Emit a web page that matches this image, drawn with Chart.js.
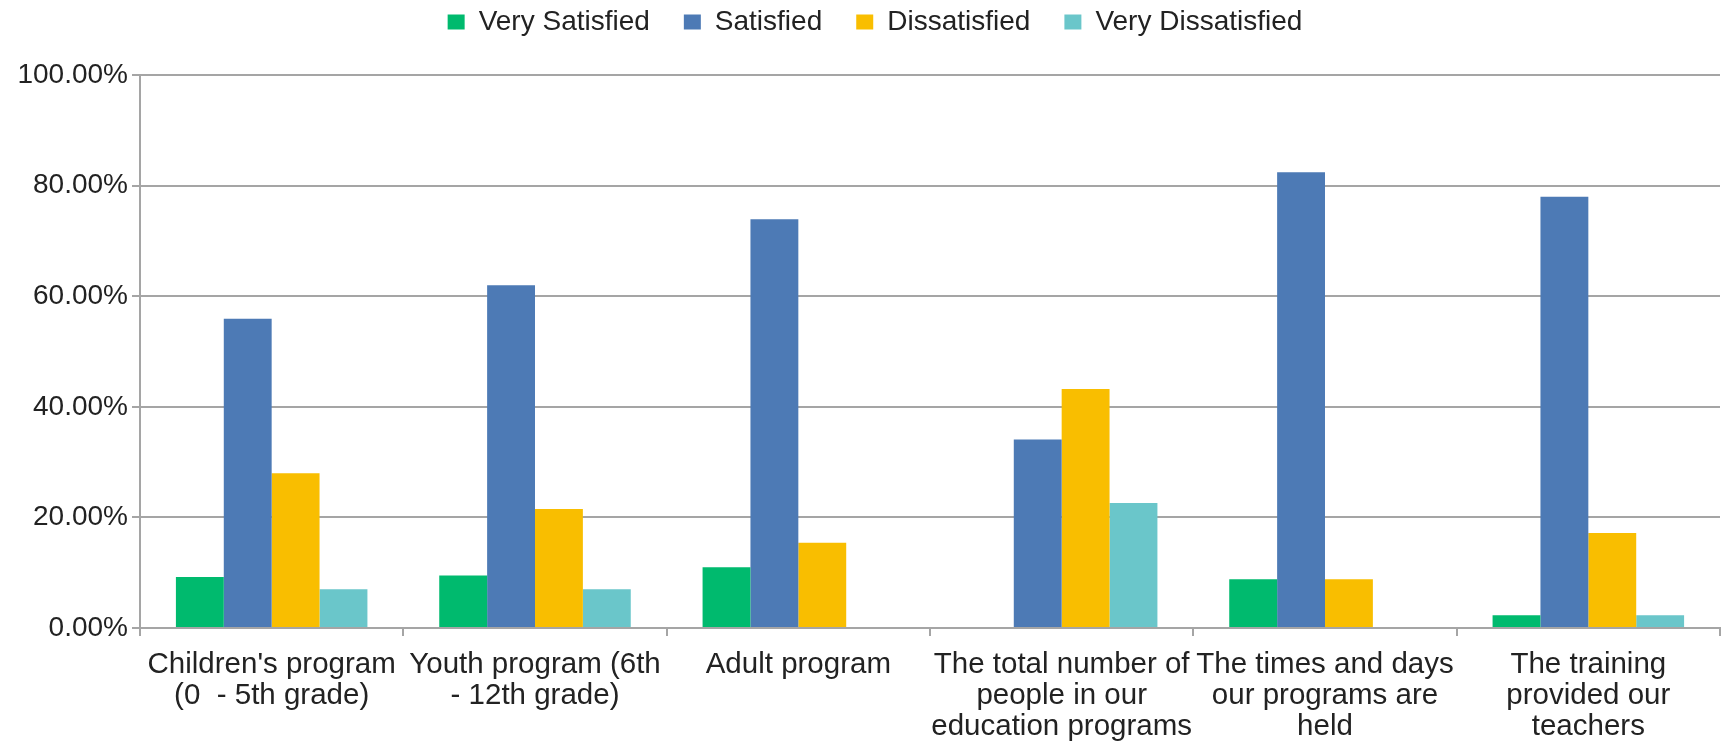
<!DOCTYPE html>
<html>
<head>
<meta charset="utf-8">
<script src="https://cdn.jsdelivr.net/npm/chart.js@4"></script>
<style>
  html, body { margin: 0; padding: 0; background: #fff; }
  #wrap { width: 1723px; height: 744px; }
</style>
</head>
<body>
<div id="wrap"><canvas id="sat-chart"></canvas></div>
<script>
const categories = [
  ["Children's program", "(0  - 5th grade)"],
  ["Youth program (6th", "- 12th grade)"],
  ["Adult program"],
  ["The total number of", "people in our", "education programs"],
  ["The times and days", "our programs are", "held"],
  ["The training", "provided our", "teachers"]
];
const seriesNames = ["Very Satisfied", "Satisfied", "Dissatisfied", "Very Dissatisfied"];
const verySatisfied = [9.2, 9.5, 11.0, 0, 8.8, 2.3];
const satisfied = [55.9, 62.0, 73.9, 34.1, 82.4, 78.0];
const dissatisfied = [28.0, 21.5, 15.4, 43.2, 8.8, 17.2];
const veryDissatisfied = [7.0, 7.0, 0, 22.6, 0, 2.3];
const yTicks = [0, 20, 40, 60, 80, 100];

const colors = ['#00BA6E', '#4D7AB5', '#F9BE00', '#6AC6CA'];
const gridColor = '#a5a5a5';

Chart.defaults.font.family = '"Liberation Sans", Arial, sans-serif';
Chart.defaults.color = '#222';

// legend block: fixed height, and nudged to sit where the original one is
const legendPlace = {
  id: 'legendPlace',
  beforeInit(chart) {
    const legend = chart.legend;
    const fit = legend.fit;
    const draw = legend.draw;
    legend.fit = function () {
      fit.call(this);
      this.height = 75;
    };
    legend.draw = function () {
      const ctx = this.ctx;
      ctx.save();
      ctx.translate(15, -26);
      draw.call(this);
      ctx.restore();
    };
  }
};

const data = {
  labels: categories,
  datasets: [verySatisfied, satisfied, dissatisfied, veryDissatisfied].map((vals, i) => ({
    label: seriesNames[i],
    data: vals,
    backgroundColor: colors[i],
    barPercentage: 1,
    categoryPercentage: 4 / 5.5
  }))
};

const config = {
  type: 'bar',
  data: data,
  options: {
    responsive: true,
    maintainAspectRatio: false,
    animation: false,
    layout: {
      padding: { left: 0, right: 3, top: 0, bottom: 0 }
    },
    plugins: {
      legend: {
        position: 'top',
        labels: {
          boxWidth: 17,
          boxHeight: 15,
          padding: 34,
          font: { size: 28, lineHeight: 1 }
        }
      },
      tooltip: { enabled: false }
    },
    scales: {
      x: {
        grid: {
          offset: true,
          drawOnChartArea: false,
          drawTicks: true,
          tickLength: 8,
          color: gridColor,
          lineWidth: 2
        },
        border: { color: gridColor, width: 2 },
        ticks: {
          autoSkip: false,
          maxRotation: 0,
          padding: 13,
          font: { size: 29.5, lineHeight: 1.05 }
        },
        afterFit(scale) { scale.height = 116; }
      },
      y: {
        min: 0,
        max: 100,
        afterBuildTicks(scale) { scale.ticks = yTicks.map(v => ({ value: v })); },
        grid: { color: gridColor, lineWidth: 2, tickLength: 8 },
        border: { color: gridColor, width: 2 },
        ticks: {
          padding: 4,
          font: { size: 28 },
          callback: v => v.toFixed(2) + '%'
        },
        afterFit(scale) { scale.width = 140; }
      }
    }
  },
  plugins: [legendPlace]
};

const satChart = new Chart(document.getElementById('sat-chart'), config);
</script>
</body>
</html>
